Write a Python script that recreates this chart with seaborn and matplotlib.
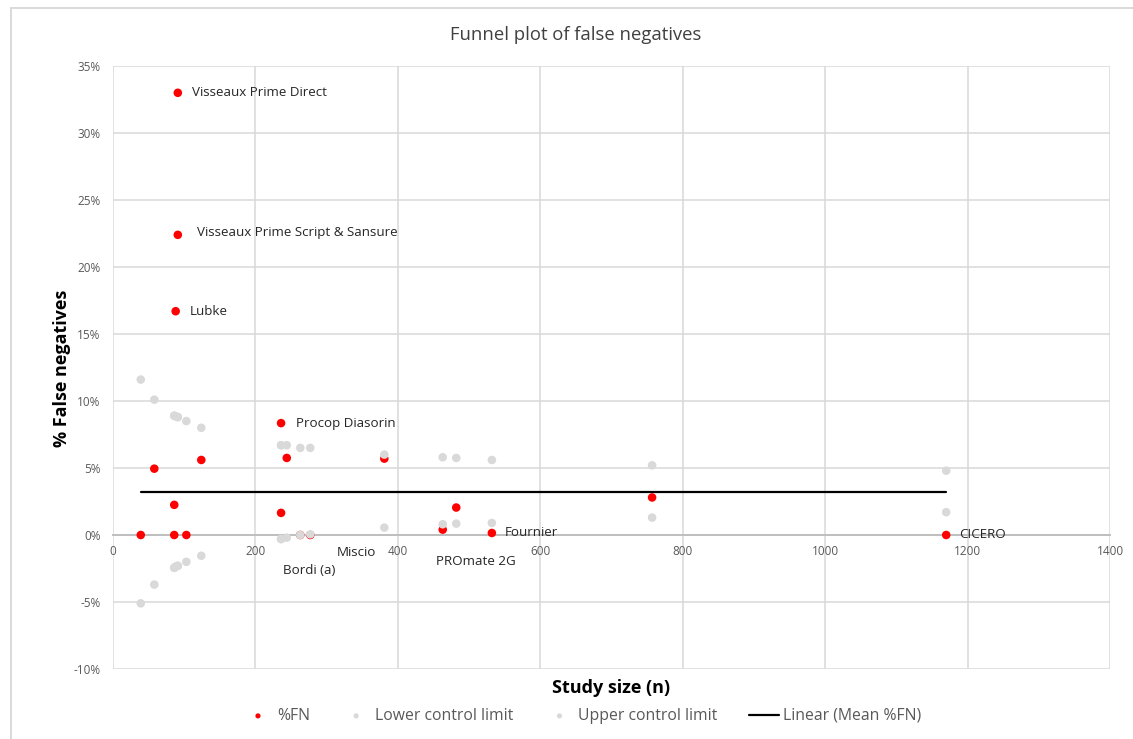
import matplotlib
matplotlib.use("Agg")
import matplotlib.pyplot as plt
import matplotlib.ticker as mticker
from matplotlib.patches import Rectangle
import seaborn as sns
import pandas as pd

# ---- data ----
study_n = [39, 58, 86, 86, 88, 91, 91, 103, 124, 236, 236, 244, 263, 277, 381, 463, 482, 532, 757, 1170]
pct_fn = [0, 4.95, 2.25, 0, 16.7, 33.0, 22.4, 0, 5.6, 8.35, 1.65, 5.75, 0, 0, 5.7, 0.4, 2.05, 0.15, 2.8, 0]
lower_limit = [-5.1, -3.7, -2.45, -2.45, -2.35, -2.3, -2.3, -2.0, -1.55, -0.3, -0.3, -0.2, 0.0, 0.05,
               0.55, 0.8, 0.85, 0.9, 1.3, 1.7]
upper_limit = [11.6, 10.1, 8.9, 8.9, 8.85, 8.8, 8.8, 8.5, 8.0, 6.7, 6.7, 6.7, 6.5, 6.5,
               6.0, 5.8, 5.75, 5.6, 5.2, 4.8]
study_labels = ["", "", "", "", "Lubke", "Visseaux Prime Direct", "Visseaux Prime Script & Sansure",
                "", "", "Procop Diasorin", "", "", "Bordi (a)", "Miscio", "", "PROmate 2G", "",
                "Fournier", "", "CICERO"]
mean_fn = 3.2
x_ticks = [0, 200, 400, 600, 800, 1000, 1200, 1400]
y_ticks = [-10, -5, 0, 5, 10, 15, 20, 25, 30, 35]

df = pd.DataFrame({"n": study_n, "fn": pct_fn, "lo": lower_limit, "up": upper_limit, "label": study_labels})
mean_df = pd.DataFrame({"n": [min(study_n), max(study_n)], "m": [mean_fn, mean_fn]})

sns.set_theme(style="white")
plt.rcParams["font.family"] = ["Open Sans", "DejaVu Sans"]

fig = plt.figure(figsize=(11.33, 7.39), dpi=100)
ax = fig.add_axes([113 / 1133, 1 - 669 / 739, (1110 - 113) / 1133, (669 - 66) / 739])

grid_c = "#D9D9D9"
txt_c = "#595959"

sns.scatterplot(data=df, x="n", y="fn", ax=ax, color="#FF0000", s=38, edgecolor="none",
                label="%FN", zorder=3)
sns.scatterplot(data=df, x="n", y="lo", ax=ax, color=grid_c, s=38, edgecolor="none",
                label="Lower control limit", zorder=4)
sns.scatterplot(data=df, x="n", y="up", ax=ax, color=grid_c, s=38, edgecolor="none",
                label="Upper control limit", zorder=4)
sns.lineplot(data=mean_df, x="n", y="m", ax=ax, color="black", lw=1.6,
             label="Linear (Mean %FN)", zorder=5)

ax.set_xlim(0, 1400)
ax.set_ylim(-10, 35)
ax.set_xticks(x_ticks)
ax.set_yticks(y_ticks)
ax.yaxis.set_major_formatter(mticker.FuncFormatter(lambda v, p: f"{v:.0f}%"))
ax.grid(True, color=grid_c, lw=1.1, zorder=0)
ax.set_axisbelow(True)
for s in ["top", "right", "left"]:
    ax.spines[s].set_visible(False)
ax.spines["bottom"].set_position(("data", 0))
ax.spines["bottom"].set_color("#BFBFBF")
ax.spines["bottom"].set_linewidth(1.4)
ax.spines["bottom"].set_zorder(1)
ax.tick_params(axis="both", length=0, labelsize=8.5, labelcolor=txt_c)
ax.tick_params(axis="x", pad=7)
ax.tick_params(axis="y", pad=9)
ax.set_xlabel("")
ax.set_ylabel("")

# point labels
offsets = {
    "Lubke": (14, 0),
    "Visseaux Prime Direct": (14, 0),
    "Visseaux Prime Script & Sansure": (19, 2),
    "Procop Diasorin": (15, 0),
    "Bordi (a)": (-17, -36),
    "Miscio": (26, -18),
    "PROmate 2G": (-7, -32),
    "Fournier": (13, 0),
    "CICERO": (13, 0),
}
for _, r in df.iterrows():
    if r["label"]:
        dx, dy = offsets[r["label"]]
        ax.annotate(r["label"], (r["n"], r["fn"]), xytext=(dx, dy), textcoords="offset pixels",
                    ha="left", va="center", fontsize=9.6, color="#262626", zorder=6)

# axis titles / chart title
fig.text(611 / 1133, 1 - 688 / 739, "Study size (n)", ha="center", va="center",
         fontsize=13, fontweight="bold", color="black")
fig.text(62 / 1133, 1 - 368 / 739, "% False negatives", ha="center", va="center",
         rotation=90, fontsize=13, fontweight="bold", color="black")
fig.text(576 / 1133, 1 - 35 / 739, "Funnel plot of false negatives", ha="center", va="center",
         fontsize=13.3, color="#404040")

# legend
handles, labels = ax.get_legend_handles_labels()
ax.legend_.remove()
leg = fig.legend(handles, labels, loc="center", bbox_to_anchor=(582 / 1133, 1 - 716 / 739),
                 ncol=4, frameon=False, fontsize=11.3, handletextpad=0.25, columnspacing=2.0,
                 handlelength=1.9, markerscale=0.6)
for t in leg.get_texts():
    t.set_color(txt_c)

# outer chart frame
fig.add_artist(Rectangle((11 / 1133, -0.1), 2.0, 1 - 8 / 739 + 0.1, transform=fig.transFigure,
                         fill=False, edgecolor=grid_c, lw=1.4, clip_on=False))

fig.savefig("out.png", dpi=100)
